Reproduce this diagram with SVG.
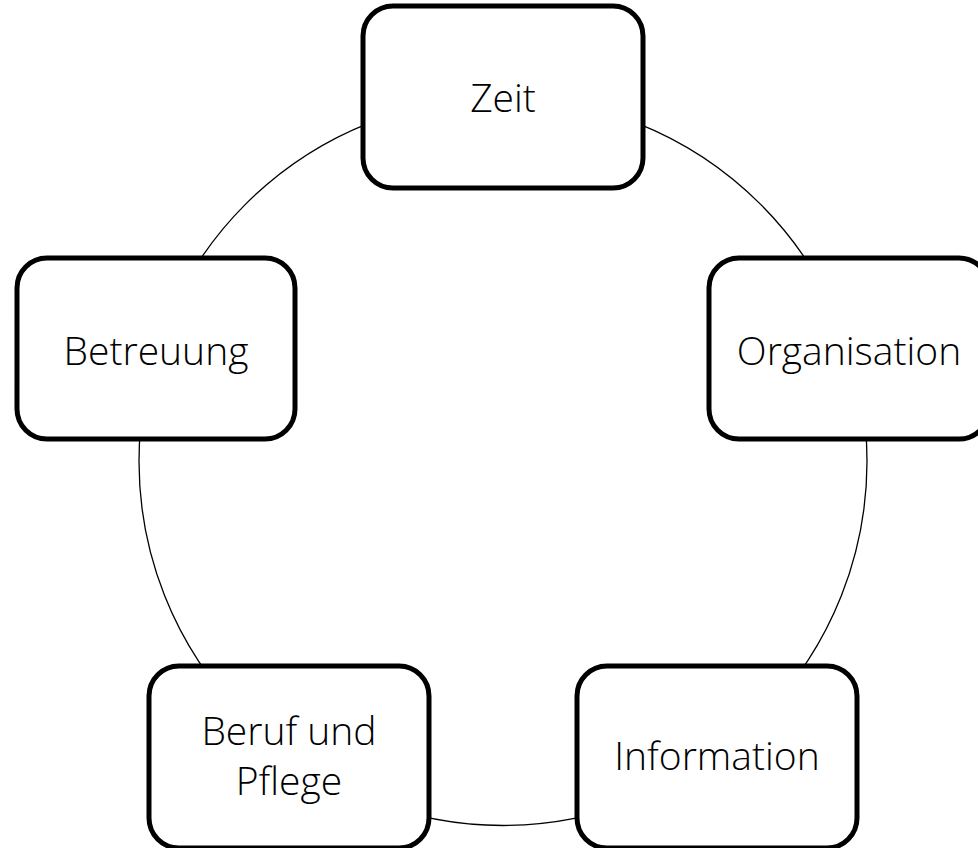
<svg xmlns="http://www.w3.org/2000/svg" width="978" height="848" viewBox="0 0 978 848">
<style>
.box{fill:#fff;stroke:#000;stroke-width:5}
.lbl{font-family:"Open Sans","Liberation Sans",sans-serif;font-weight:300;font-size:39px;fill:#000;text-anchor:middle}
.ring{fill:none;stroke:#000;stroke-width:1.3}
</style>
<rect width="978" height="848" fill="#fff"/>
<g id="connectors">
<circle class="ring" cx="503" cy="461.5" r="364"/>
</g>
<g id="zeit">
<rect class="box" x="363" y="6" width="280" height="182" rx="30"/>
<text class="lbl" x="503" y="112">Zeit</text>
</g>
<g id="organisation">
<rect class="box" x="709" y="258" width="280" height="181" rx="30"/>
<text class="lbl" x="849" y="365">Organisation</text>
</g>
<g id="betreuung">
<rect class="box" x="17" y="258" width="278" height="181" rx="30"/>
<text class="lbl" x="156" y="365">Betreuung</text>
</g>
<g id="beruf">
<rect class="box" x="149" y="666" width="280" height="182" rx="30"/>
<text class="lbl" x="289" y="745">Beruf und</text>
<text class="lbl" x="289" y="795">Pflege</text>
</g>
<g id="information">
<rect class="box" x="577" y="666" width="280" height="182" rx="30"/>
<text class="lbl" x="717" y="770">Information</text>
</g>
</svg>
